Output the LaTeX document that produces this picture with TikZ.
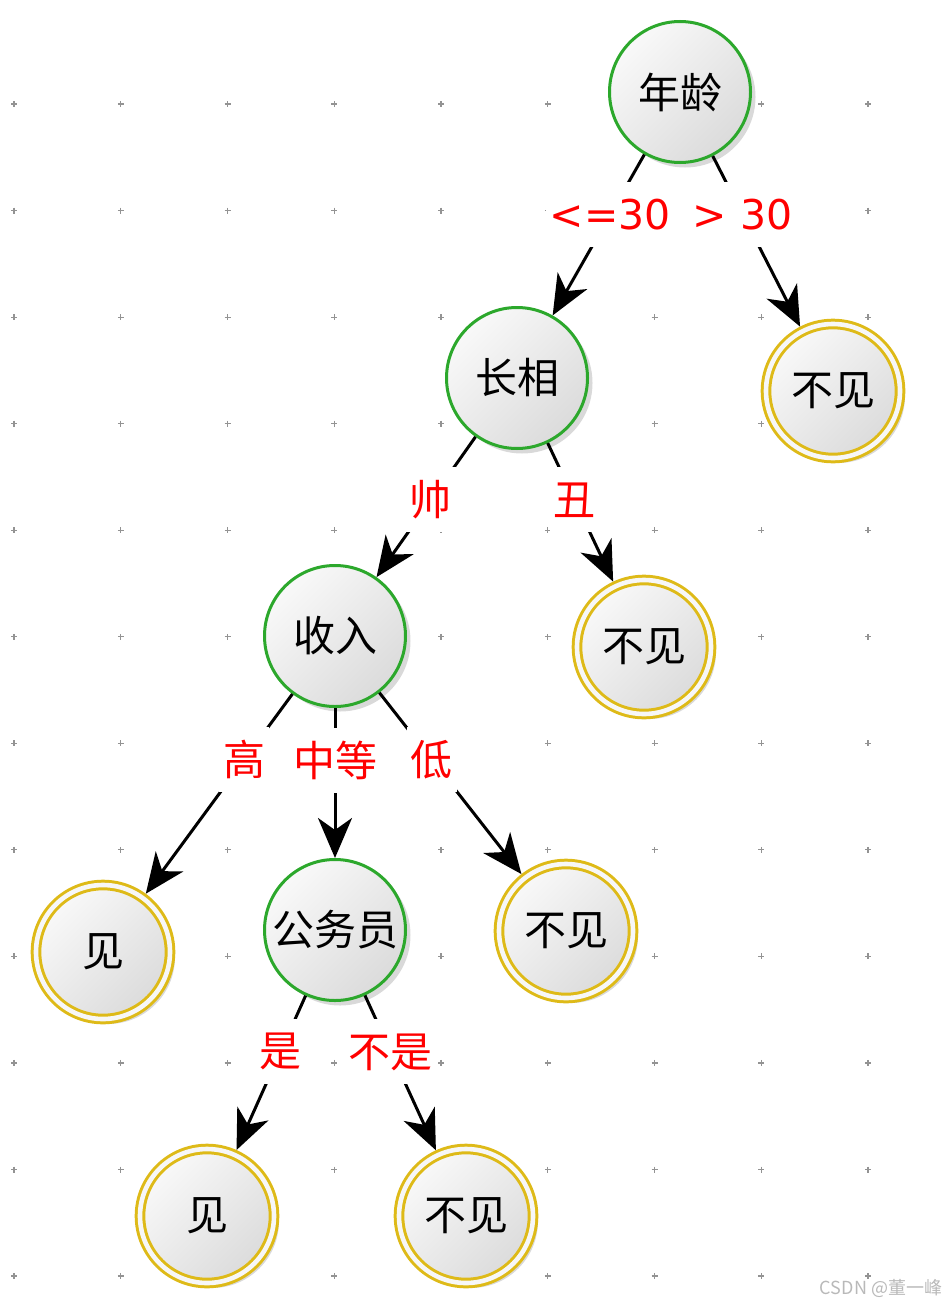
\documentclass[tikz,border=0pt]{standalone}
\usepackage{fontspec}
\setmainfont{DejaVu Sans}
\newfontfamily\cjk{Noto Sans CJK SC}
\usetikzlibrary{arrows.meta,shadows}
\definecolor{splitgreen}{RGB}{44,168,44}
\definecolor{leafgold}{RGB}{222,186,24}
\begin{document}
\begin{tikzpicture}[x=1pt, y=-1pt,
  gridplus/.style={draw=gray!85, line width=1.2pt},
  bubble/.style={circle, top color=gray!5, bottom color=gray!28, shading angle=45,
    drop shadow={shadow xshift=5pt, shadow yshift=-5pt, opacity=0.3},
    font=\fontsize{42}{42}\cjk, inner sep=0pt},
  split/.style={bubble, draw=splitgreen, line width=3pt, minimum size=141pt},
  leaf/.style={bubble, draw=leafgold, line width=3pt, double=gray!6, double distance=4.6pt,
    minimum size=134pt, outer sep=5.3pt},
  branch/.style={line width=3pt, -{Stealth[length=40pt, width=34pt, inset=12pt]}},
  cond/.style={fill=white, text=red, font=\fontsize{42}{42}\cjk, minimum height=65pt,
    inner xsep=4pt, inner ysep=0pt},
  credit/.style={font=\fontsize{18}{18}\cjk, text=gray!55}]
  \useasboundingbox (0,0) rectangle (950,1306);
  \foreach \i in {0,...,8}
    \foreach \j in {0,...,11}
      \draw[gridplus] ({14+106.75*\i},{104+106.55*\j}) +(-3,0) -- +(3,0) +(0,-3) -- +(0,3);

  \node[split] (age) at (680,92) {年龄};
  \node[split] (looks) at (517,378) {长相};
  \node[leaf] (no1) at (833,391) {不见};
  \node[split] (income) at (335,636) {收入};
  \node[leaf] (no2) at (644,647) {不见};
  \node[leaf] (yes1) at (103,952) {见};
  \node[split] (official) at (335,930) {公务员};
  \node[leaf] (no3) at (566,931) {不见};
  \node[leaf] (yes2) at (207,1216) {见};
  \node[leaf] (no4) at (466,1216) {不见};

  \draw[branch] (age) -- node[cond, pos=0.37, font=\fontsize{41}{41}\selectfont] {<=30} (looks);
  \draw[branch] (age) -- node[cond, pos=0.34, font=\fontsize{41}{41}\selectfont] {> 30} (no1);
  \draw[branch] (looks) -- node[cond, pos=0.45] {帅} (income);
  \draw[branch] (looks) -- node[cond, pos=0.41] {丑} (no2);
  \draw[branch] (income) -- node[cond, pos=0.33] {高} (yes1);
  \draw[branch] (income) -- node[cond, pos=0.347] {中等} (official);
  \draw[branch] (income) -- node[cond, pos=0.37] {低} (no3);
  \draw[branch] (official) -- node[cond, pos=0.364] {是} (yes2);
  \draw[branch] (official) -- node[cond, pos=0.365] {不是} (no4);

  \node[credit] (mark) at (881,1288) {CSDN @董一峰};
\end{tikzpicture}
\end{document}
